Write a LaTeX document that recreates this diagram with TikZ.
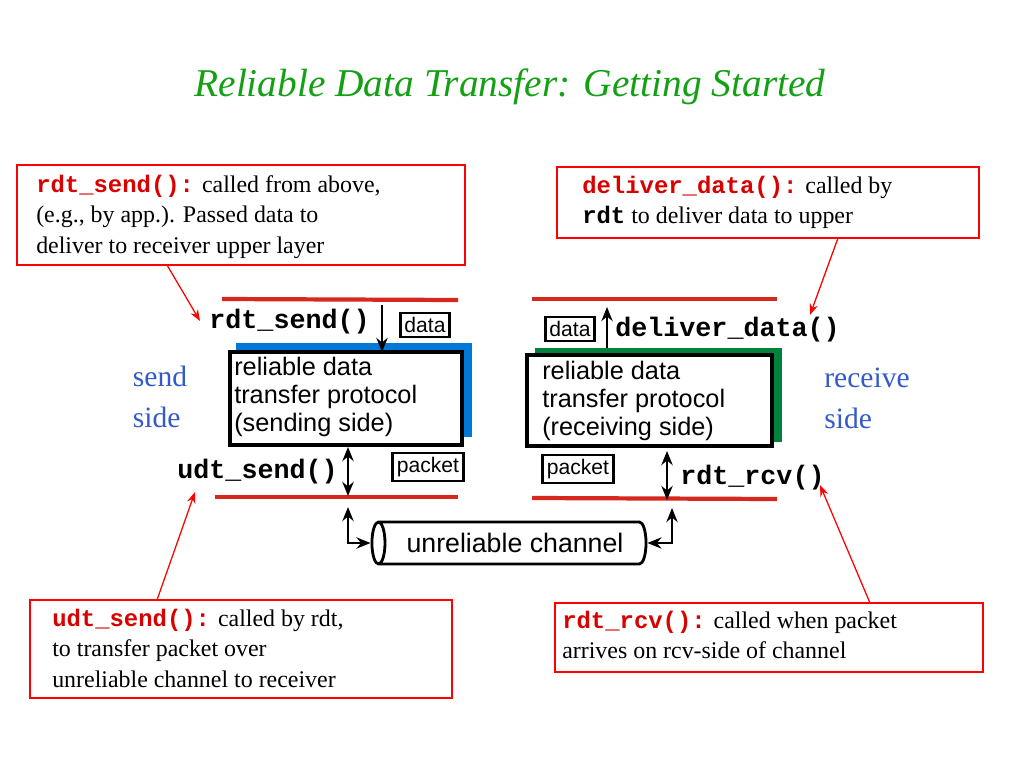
\documentclass[tikz,border=0pt]{standalone}
\usepackage{fontspec}
\setmainfont{Liberation Serif}
\setsansfont{Liberation Sans}
\setmonofont{Liberation Mono}
\usetikzlibrary{arrows.meta,positioning,shapes.geometric}
\definecolor{titleGreen}{RGB}{20,160,20}
\definecolor{sideBlue}{RGB}{50,90,200}
\definecolor{shadowBlue}{RGB}{0,120,215}
\definecolor{shadowGreen}{RGB}{0,130,60}
\definecolor{layerRed}{RGB}{215,40,30}
\newcommand{\fn}[1]{{\color{red!85!black}\ttfamily\bfseries #1}}
\begin{document}
\begin{tikzpicture}[x=0.025cm,y=-0.025cm]
		\tikzstyle{callout} = [rectangle, draw=red, line width=1.2pt, fill=white, inner sep=0pt]
		\tikzstyle{calltext} = [anchor=north west, align=left, inner sep=0pt, font=\fontsize{17}{21.5}\selectfont]
		\tikzstyle{protocol} = [rectangle, draw=black, line width=2.5pt, fill=white, inner sep=0pt]
		\tikzstyle{prottext} = [anchor=north west, align=left, inner sep=0pt, font=\sffamily\fontsize{18}{20}\selectfont]
		\tikzstyle{tag} = [rectangle, draw=black, line width=2pt, inner sep=3pt, font=\sffamily\fontsize{15}{16}\selectfont]
		\tikzstyle{call} = [inner sep=0pt, font=\ttfamily\bfseries\fontsize{19}{20}\selectfont]
		\tikzstyle{layer} = [draw=layerRed, line width=3pt]
		\tikzstyle{arrow} = [line width=2pt, -{Stealth[length=10pt,width=8pt]}]
		\tikzstyle{twoway} = [line width=2pt, {Stealth[length=10pt,width=8pt]}-{Stealth[length=10pt,width=8pt]}]
		\tikzstyle{pointer} = [red, line width=0.9pt, -{Stealth[length=8pt,width=6pt]}]
		\tikzstyle{side} = [align=left, inner sep=0pt, text=sideBlue, font=\fontsize{21}{29}\selectfont]
		\useasboundingbox (0,0) rectangle (1024,768);
		% title
		\node (title) at (510,87) {\color{titleGreen}\itshape\fontsize{28}{30}\selectfont Reliable Data Transfer: Getting Started};
		% callout boxes
		\draw [callout] (17,165) rectangle (465,265);
		\node (sendNote) [calltext] at (36,175) {\fn{rdt\_send():} called from above,\\(e.g., by app.). Passed data to\\deliver to receiver upper layer};
		\draw [callout] (557,167) rectangle (979,238);
		\node (deliverNote) [calltext] at (582,176) {\fn{deliver\_data():} called by\\\textbf{\ttfamily rdt} to deliver data to upper};
		\draw [callout] (30,600) rectangle (452,698);
		\node (udtNote) [calltext] at (52,609) {\fn{udt\_send():} called by rdt,\\to transfer packet over\\unreliable channel to receiver};
		\draw [callout] (555,603) rectangle (983,672);
		\node (rcvNote) [calltext] at (562,611) {\fn{rdt\_rcv():} called when packet\\arrives on rcv-side of channel};
		% layer lines
		\draw [layer] (222,299) -- (458,300);
		\draw [layer] (532,299) -- (777,299);
		\draw [layer] (215,497) -- (458,497);
		\draw [layer] (532,498) -- (777,499);
		% protocol boxes
		\fill [shadowBlue] (236,343) rectangle (472,437);
		\draw [protocol] (230,352) rectangle (462,445);
		\node (sender) [prottext] at (234,357) {reliable data\\transfer protocol\\(sending side)};
		\fill [shadowGreen] (535,348) rectangle (782,442);
		\draw [protocol] (527,355) rectangle (772,446);
		\node (receiver) [prottext] at (542,361) {reliable data\\transfer protocol\\(receiving side)};
		% calls and tags
		\node (rdtSend) [call, anchor=east] at (370,322) {rdt\_send()};
		\node (dataIn) [tag] at (425,325) {data};
		\coordinate (sendTop) at (382,305);
		\coordinate (sendIn) at (382,352);
		\draw [arrow] (sendTop) -- (sendIn);
		\node (dataOut) [tag] at (570,329) {data};
		\node (deliverData) [call, anchor=west] at (615,330) {deliver\_data()};
		\coordinate (recvTop) at (607,307);
		\coordinate (recvOut) at (607,348);
		\draw [arrow] (recvOut) -- (recvTop);
		\node (udtSend) [call, anchor=east] at (338,472) {udt\_send()};
		\node (packetOut) [tag] at (428,467) {packet};
		\coordinate (udtTop) at (348,447);
		\coordinate (udtBottom) at (348,496);
		\draw [twoway] (udtTop) -- (udtBottom);
		\node (packetIn) [tag] at (578,469) {packet};
		\node (rdtRcv) [call, anchor=west] at (680,478) {rdt\_rcv()};
		\coordinate (rcvTop) at (667,451);
		\coordinate (rcvBottom) at (667,500);
		\draw [twoway] (rcvTop) -- (rcvBottom);
		% channel
		\node (channel) [cylinder, shape border rotate=180, draw=black, line width=2pt,
			minimum width=1.05cm, minimum height=6.85cm, aspect=0.45, font=\sffamily\fontsize{19}{20}\selectfont] at (515,543) {unreliable channel};
		\coordinate (chanLeft) at (348,507);
		\coordinate (chanRight) at (672,508);
		\draw [twoway] (chanLeft) |- (channel.west);
		\draw [twoway] (chanRight) |- (channel.east);
		% side labels
		\node (sendSide) [side] at (160,397) {send\\side};
		\node (receiveSide) [side] at (867,398) {receive\\side};
		% pointers
		\draw [pointer] (167,265) -- (200,321);
		\draw [pointer] (838,238) -- (810,315);
		\draw [pointer] (157,600) -- (195,492);
		\draw [pointer] (870,603) -- (820,485);
\end{tikzpicture}
\end{document}
